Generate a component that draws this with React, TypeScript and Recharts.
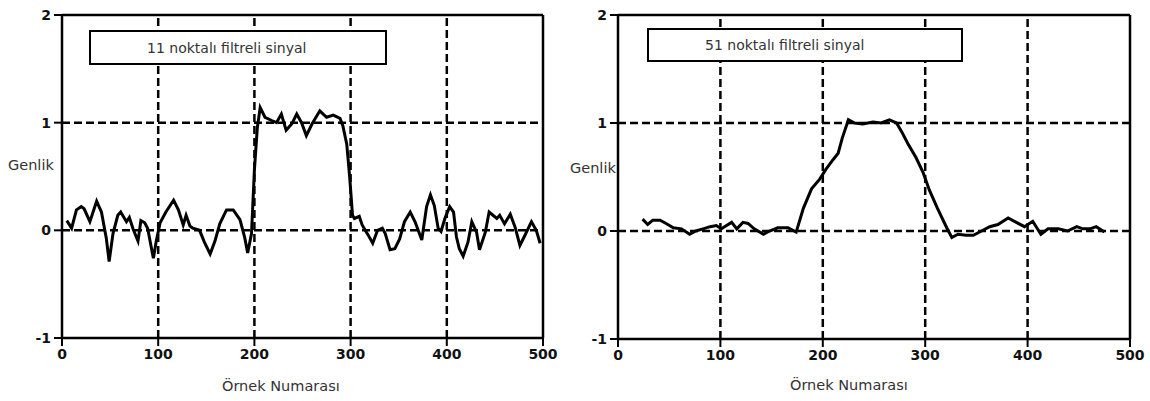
import React from "react";
import { LineChart, Line, XAxis, YAxis, ReferenceLine } from "recharts";

// 11 noktalı filtre (sol grafik)
const leftSamples = [
  5, 10, 15, 20, 23, 29, 36, 41, 46, 49, 53, 58, 61, 67, 70, 74, 79, 82, 86, 89,
  95, 98, 102, 108, 116, 121, 126, 129, 133, 136, 143, 148, 154, 159, 164, 171,
  178, 185, 190, 193, 197, 200, 203, 206, 211, 218, 223, 228, 233, 239, 244, 249,
  254, 260, 268, 275, 282, 289, 292, 296, 299, 302, 304, 309, 312, 318, 323, 328,
  333, 336, 341, 346, 351, 356, 362, 367, 374, 379, 383, 387, 391, 394, 398, 403,
  407, 410, 413, 417, 422, 426, 431, 434, 440, 444, 448, 452, 455, 460, 466, 471,
  476, 481, 488, 493, 497,
];
const leftValues = [
  0.09, 0.02, 0.19, 0.22, 0.2, 0.08, 0.27, 0.17, -0.07, -0.29, -0.03, 0.14, 0.17,
  0.08, 0.12, 0.01, -0.1, 0.09, 0.07, 0.02, -0.26, -0.1, 0.07, 0.17, 0.28, 0.19,
  0.05, 0.14, 0.04, 0.02, 0.0, -0.11, -0.22, -0.1, 0.06, 0.19, 0.19, 0.1, -0.07,
  -0.21, -0.03, 0.56, 0.95, 1.14, 1.05, 1.02, 1.0, 1.08, 0.93, 0.99, 1.08, 1.0,
  0.88, 0.99, 1.11, 1.05, 1.07, 1.04, 0.97, 0.8, 0.5, 0.14, 0.11, 0.13, 0.05,
  -0.04, -0.12, 0.0, 0.02, -0.03, -0.18, -0.17, -0.08, 0.08, 0.17, 0.08, -0.09,
  0.22, 0.33, 0.23, 0.02, -0.01, 0.11, 0.22, 0.17, -0.06, -0.17, -0.24, -0.11,
  0.08, -0.02, -0.18, -0.02, 0.17, 0.14, 0.11, 0.14, 0.06, 0.15, 0.03, -0.14,
  -0.05, 0.08, 0.0, -0.12,
];

// 51 noktalı filtre (sağ grafik)
const rightSamples = [
  24, 29, 34, 41, 47, 54, 62, 70, 76, 83, 90, 96, 101, 106, 111, 116, 122, 127,
  133, 142, 148, 156, 166, 174, 181, 189, 197, 203, 210, 215, 219, 225, 231, 239,
  249, 257, 265, 272, 277, 283, 291, 298, 304, 312, 321, 326, 332, 340, 347, 355,
  363, 371, 381, 389, 397, 405, 413, 420, 430, 439, 448, 454, 461, 467, 475,
];
const rightValues = [
  0.11, 0.06, 0.1, 0.1, 0.07, 0.03, 0.02, -0.03, 0.0, 0.02, 0.04, 0.05, 0.02,
  0.05, 0.08, 0.02, 0.08, 0.07, 0.02, -0.03, 0.0, 0.03, 0.03, -0.01, 0.21, 0.39,
  0.48, 0.57, 0.66, 0.72, 0.86, 1.03, 1.0, 0.99, 1.01, 1.0, 1.03, 1.0, 0.92, 0.81,
  0.68, 0.54, 0.38, 0.21, 0.03, -0.06, -0.03, -0.04, -0.04, 0.0, 0.04, 0.06, 0.12,
  0.08, 0.04, 0.09, -0.03, 0.02, 0.02, 0.0, 0.04, 0.02, 0.02, 0.04, -0.01,
];

const xTicks = [0, 100, 200, 300, 400, 500];
const yTicks = [-1, 0, 1, 2];
const gridX = [100, 200, 300, 400];
const gridY = [0, 1];

const leftData = leftSamples.map((s, i) => ({ s, v: leftValues[i] }));
const rightData = rightSamples.map((s, i) => ({ s, v: rightValues[i] }));

const tick = {
  fill: "#111",
  fontSize: 14,
  fontWeight: 700,
  fontFamily: "DejaVu Sans",
};
const labelStyle: React.CSSProperties = {
  position: "absolute",
  fontFamily: "DejaVu Sans",
  fontSize: 14.5,
  color: "#333",
  whiteSpace: "nowrap",
  lineHeight: "16px",
};

function Panel({
  data,
  left,
  width,
  margin,
  title,
  box,
  genlik,
  ornek,
}: {
  data: Array<{ s: number; v: number }>;
  left: number;
  width: number;
  margin: { top: number; right: number; left: number; bottom: number };
  title: string;
  box: { x: number; y: number; w: number; h: number; pad: number };
  genlik: { x: number; y: number };
  ornek: { x: number; y: number };
}) {
  return (
    <div style={{ position: "absolute", left, top: 0, width, height: 401 }}>
      <LineChart width={width} height={401} data={data} margin={margin}>
        <XAxis
          dataKey="s"
          type="number"
          domain={[0, 500]}
          ticks={xTicks}
          height={30}
          tick={tick}
          tickSize={8}
          tickMargin={3}
          axisLine={{ stroke: "#000", strokeWidth: 2.5 }}
          tickLine={{ stroke: "#000", strokeWidth: 2 }}
        />
        <YAxis
          type="number"
          domain={[-1, 2]}
          ticks={yTicks}
          width={22}
          tick={tick}
          tickSize={8}
          tickMargin={3}
          axisLine={{ stroke: "#000", strokeWidth: 2.5 }}
          tickLine={{ stroke: "#000", strokeWidth: 2 }}
        />
        {gridX.map((x) => (
          <ReferenceLine key={`x${x}`} x={x} stroke="#000" strokeWidth={2.5} strokeDasharray="8 4" />
        ))}
        {gridY.map((y) => (
          <ReferenceLine key={`y${y}`} y={y} stroke="#000" strokeWidth={2.5} strokeDasharray="8 4" />
        ))}
        <ReferenceLine y={2} stroke="#000" strokeWidth={2.5} />
        <ReferenceLine x={500} stroke="#000" strokeWidth={2.5} />
        <Line
          dataKey="v"
          type="linear"
          stroke="#000"
          strokeWidth={3}
          dot={false}
          isAnimationActive={false}
        />
      </LineChart>
      <div
        style={{
          position: "absolute",
          left: box.x,
          top: box.y,
          width: box.w,
          height: box.h,
          boxSizing: "border-box",
          border: "2.5px solid #000",
          background: "#fff",
          fontFamily: "DejaVu Sans",
          fontSize: 14,
          color: "#333",
          paddingLeft: box.pad,
          display: "flex",
          alignItems: "center",
        }}
      >
        {title}
      </div>
      <div style={{ ...labelStyle, left: genlik.x, top: genlik.y }}>Genlik</div>
      <div style={{ ...labelStyle, left: ornek.x, top: ornek.y }}>Örnek Numarası</div>
    </div>
  );
}

export default function App() {
  return (
    <div
      style={{
        position: "fixed",
        left: 0,
        top: 0,
        width: 1150,
        height: 401,
        background: "#fff",
        overflow: "hidden",
      }}
    >
      <Panel
        data={leftData}
        left={0}
        width={560}
        margin={{ top: 15, right: 17, left: 40, bottom: 33 }}
        title="11 noktalı filtreli sinyal"
        box={{ x: 89, y: 30, w: 298, h: 35, pad: 56 }}
        genlik={{ x: 8, y: 157 }}
        ornek={{ x: 222, y: 378 }}
      />
      <Panel
        data={rightData}
        left={570}
        width={580}
        margin={{ top: 15, right: 20, left: 26, bottom: 32 }}
        title="51 noktalı filtreli sinyal"
        box={{ x: 77, y: 28, w: 316, h: 34, pad: 56 }}
        genlik={{ x: 0, y: 160 }}
        ornek={{ x: 220, y: 377 }}
      />
    </div>
  );
}
